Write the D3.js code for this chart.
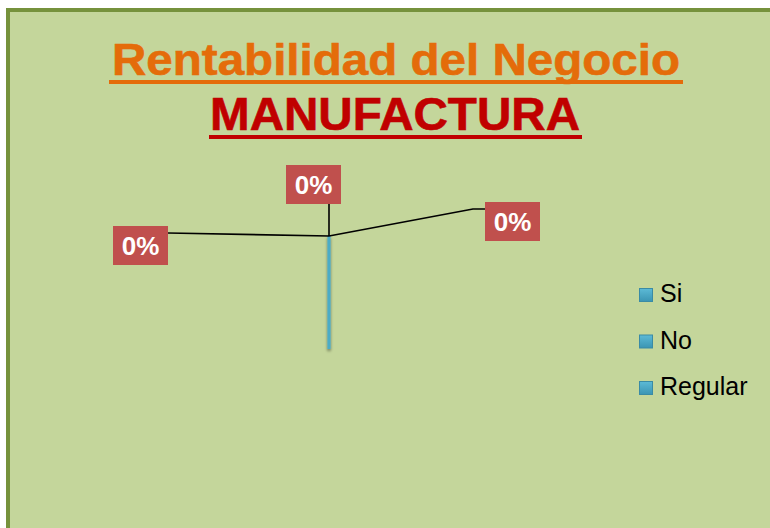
<!DOCTYPE html>
<html><head><meta charset="utf-8">
<script src="https://cdn.jsdelivr.net/npm/d3@7"></script>
<style>html,body{margin:0;padding:0;background:#fff;overflow:hidden}svg{display:block}</style>
</head><body><svg id="c" width="770" height="528"></svg>
<script>
// ---- data ----
const categories = ["Si", "No", "Regular"];
const values = [0, 0, 0];
const titleLine1 = "Rentabilidad del Negocio";
const titleLine2 = "MANUFACTURA";

// ---- layout ----
const W = 770, H = 528;
const cx = 329, cy = 236, R = 113;
const svg = d3.select("#c");
const defs = svg.append("defs");

const g1 = defs.append("linearGradient").attr("id","lg").attr("x1",0).attr("y1",0).attr("x2",0).attr("y2",1);
g1.append("stop").attr("offset","0%").attr("stop-color","#5cbad6");
g1.append("stop").attr("offset","100%").attr("stop-color","#3b95b3");
const f = defs.append("filter").attr("id","sh").attr("filterUnits","userSpaceOnUse")
  .attr("x",-30).attr("y",-30).attr("width",60).attr("height",R+60);
f.append("feGaussianBlur").attr("in","SourceAlpha").attr("stdDeviation",1.8).attr("result","b");
f.append("feOffset").attr("in","b").attr("dx",0).attr("dy",2).attr("result","o");
f.append("feComponentTransfer").attr("in","o").attr("result","o2").append("feFuncA").attr("type","linear").attr("slope",0.45);
const m = f.append("feMerge"); m.append("feMergeNode").attr("in","o2"); m.append("feMergeNode").attr("in","SourceGraphic");

// frame
svg.append("rect").attr("x",8).attr("y",10).attr("width",W+20).attr("height",H+20)
  .attr("fill","#c4d69b").attr("stroke","#76923c").attr("stroke-width",4);

// titles
const tcx = 396;
svg.append("text").attr("x",tcx).attr("y",75).attr("text-anchor","middle")
  .attr("font-family","Liberation Sans, Arial, sans-serif").attr("font-weight","bold")
  .attr("font-size",45).attr("fill","#e46c0a").attr("stroke","#e46c0a").attr("stroke-width",0.6)
  .attr("textLength",568).attr("lengthAdjust","spacingAndGlyphs")
  .text(titleLine1);
svg.append("rect").attr("x",tcx-287).attr("y",80).attr("width",574).attr("height",4).attr("fill","#e46c0a");
svg.append("text").attr("x",395).attr("y",130).attr("text-anchor","middle")
  .attr("font-family","Liberation Sans, Arial, sans-serif").attr("font-weight","bold")
  .attr("font-size",46).attr("fill","#c00000").attr("stroke","#c00000").attr("stroke-width",0.6)
  .attr("textLength",370).attr("lengthAdjust","spacingAndGlyphs")
  .text(titleLine2);
svg.append("rect").attr("x",209).attr("y",135).attr("width",373).attr("height",4).attr("fill","#c00000");

// pie
const pie = d3.pie().sort(null).startAngle(Math.PI).endAngle(3*Math.PI);
const arcs = pie(values);
const arc = d3.arc().innerRadius(0).outerRadius(R);
const pg = svg.append("g").attr("transform",`translate(${cx},${cy})`);
pg.append("g").attr("filter","url(#sh)")
  .selectAll("path.s").data(arcs).join("path").attr("class","s")
  .attr("d",arc).attr("fill","#4bacc6").attr("stroke","#4bacc6").attr("stroke-width",2.5);

// labels (Excel best-fit placement for zero slices)
const labelLayout = [
  {a:-1.552, r:161, elbow:0,  bx:-216, by:-10},
  {a:0,      r:32,  elbow:0,  bx:-43,  by:-71},
  {a:1.385,  r:146.5, elbow:12, bx:156, by:-34}
];
const fmt = d3.format(".0%");
const total = d3.sum(values);
arcs.forEach((d,i)=>{
  const L = labelLayout[i];
  const p = d3.pointRadial(L.a, L.r);
  const pts = [[0,0],p];
  if (L.elbow) pts.push([p[0]+L.elbow,p[1]]);
  pg.append("path").attr("d",d3.line()(pts)).attr("fill","none").attr("stroke","#000").attr("stroke-width",1.6);
  pg.append("rect").attr("x",L.bx).attr("y",L.by).attr("width",55).attr("height",39).attr("fill","#c0504d");
  pg.append("text").attr("x",L.bx+27.5).attr("y",L.by+29).attr("text-anchor","middle")
    .attr("font-family","Liberation Sans, Arial, sans-serif").attr("font-weight","bold").attr("font-size",26)
    .attr("fill","#fff").text(fmt(total ? d.value/total : 0));
});

// legend
const lg = svg.append("g").attr("transform","translate(639,288)");
const li = lg.selectAll("g").data(categories).join("g").attr("transform",(d,i)=>`translate(0,${i*46.5})`);
li.append("rect").attr("x",0.5).attr("y",0.5).attr("width",13).attr("height",13)
  .attr("fill","url(#lg)").attr("stroke","#3a8ba5").attr("stroke-width",1);
li.append("text").attr("x",21).attr("y",14).attr("font-family","Liberation Sans, Arial, sans-serif")
  .attr("font-size",25).attr("fill","#000").text(d=>d);
</script></body></html>
